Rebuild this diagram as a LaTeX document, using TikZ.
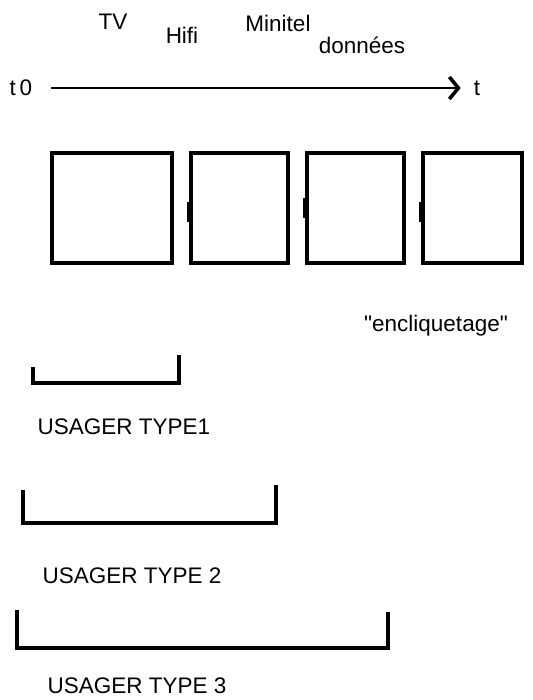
\documentclass[tikz,border=0pt]{standalone}
\usepackage{fontspec}
\setmainfont{Liberation Sans}
\newfontfamily\plainq{Liberation Sans}
\usetikzlibrary{arrows.meta}
\begin{document}
\begin{tikzpicture}[x=1pt,y=-1pt,
  lbl/.style={inner sep=0pt,font=\fontsize{22.5}{26}\selectfont},
  module/.style={draw,line width=3.4pt,inner sep=0pt},
  clip mark/.style={line width=5pt},
  bracket/.style={line width=3.4pt,line cap=butt}]
\useasboundingbox (0,0) rectangle (532,700);
% top labels
\node[lbl] (tv) at (113,22) {TV};
\node[lbl] (hifi) at (182,35) {Hifi};
\node[lbl] (minitel) at (278,23) {Minitel};
\node[lbl] (donnees) at (362,45) {données};
% time axis
\node[lbl] (t0) at (21,88) {t\,0};
\node[lbl] (t) at (477,88) {t};
\draw[line width=2.4pt,-{Straight Barb[length=9pt,width=22pt,line width=3.6pt]}] (t0.east) ++(19,0) coordinate (a0) -- ([xshift=-13pt]t.west);
% modules
\node[module,minimum width=120pt,minimum height=110pt] (m1) at (112,208) {};
\node[module,minimum width=97pt,minimum height=110pt] (m2) at (239.5,208) {};
\node[module,minimum width=97pt,minimum height=110pt] (m3) at (355.5,208) {};
\node[module,minimum width=99pt,minimum height=110pt] (m4) at (472.5,208) {};
\draw[clip mark] ([yshift=-14pt]m2.west) -- ([yshift=6pt]m2.west);
\draw[clip mark] ([yshift=-10pt]m3.west) -- ([yshift=10pt]m3.west);
\draw[clip mark] ([yshift=-14pt]m4.west) -- ([yshift=6pt]m4.west);
\node[lbl] (encl) at (436,326) {{\plainq"}encliquetage{\plainq"}};
% usager brackets
\coordinate (b1a) at (33,367); \coordinate (b1b) at (33,383);
\coordinate (b1c) at (179,383); \coordinate (b1d) at (179,355);
\draw[bracket] (b1a) -- (b1b) -- (b1c) -- (b1d);
\node[lbl] (u1) at (124,427) {USAGER TYPE1};
\coordinate (b2a) at (23,490); \coordinate (b2b) at (23,523);
\coordinate (b2c) at (276,523); \coordinate (b2d) at (276,485);
\draw[bracket] (b2a) -- (b2b) -- (b2c) -- (b2d);
\node[lbl] (u2) at (132,576) {USAGER TYPE 2};
\coordinate (b3a) at (17,610); \coordinate (b3b) at (17,648);
\coordinate (b3c) at (388,648); \coordinate (b3d) at (388,612);
\draw[bracket] (b3a) -- (b3b) -- (b3c) -- (b3d);
\node[lbl] (u3) at (137,686) {USAGER TYPE 3};
\end{tikzpicture}
\end{document}
